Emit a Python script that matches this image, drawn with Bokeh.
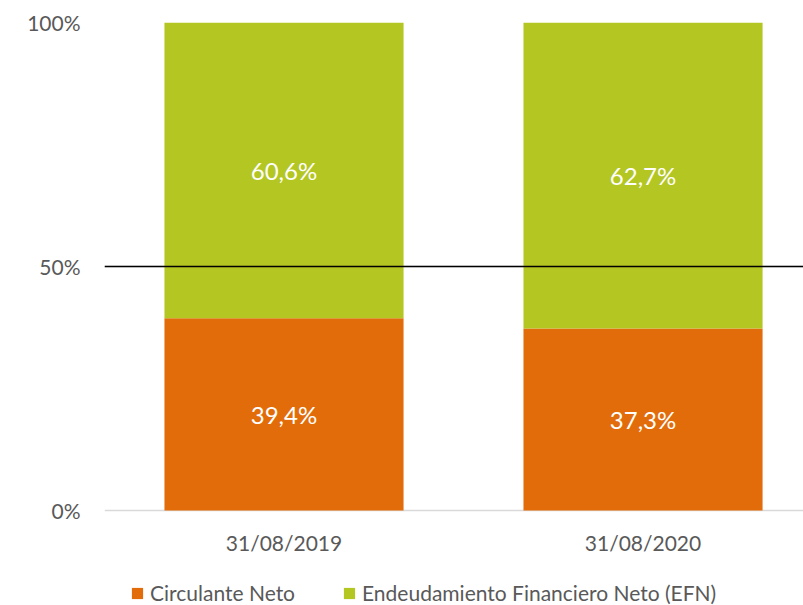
from bokeh.plotting import figure
from bokeh.models import ColumnDataSource, Range1d, FixedTicker, Span, Legend, LegendItem
from bokeh.core.properties import value
from bokeh.embed import file_html
from bokeh.resources import INLINE

# Data
dates = ["31/08/2019", "31/08/2020"]
circulante = [0.394, 0.373]
efn = [0.606, 0.627]
series_names = ["Circulante Neto", "Endeudamiento Financiero Neto (EFN)"]
y_ticks = [0, 0.5, 1.0]
y_tick_labels = ["0%", "50%", "100%"]

FONT = "Lato"
ORANGE = "#E36C0A"
GREEN = "#B4C622"
GRAY = "#595959"

PX_PER_UNIT = 488.0          # frame pixels per 100 %
BELOW_PX = 95.0              # room under the 0 % line for date labels and legend
LABEL_OFFSET_PX = 32.0       # date labels below the 0 % line

xs = [i + 0.5 for i in range(len(dates))]

def fmt(v):
    return ("%.1f%%" % (v * 100)).replace(".", ",")

src = ColumnDataSource(dict(
    x=xs,
    circ=circulante,
    efn=efn,
    circ_mid=[c / 2 for c in circulante],
    efn_mid=[c + e / 2 for c, e in zip(circulante, efn)],
    circ_lbl=[fmt(c) for c in circulante],
    efn_lbl=[fmt(e) for e in efn],
))
date_src = ColumnDataSource(dict(x=xs, y=[-LABEL_OFFSET_PX / PX_PER_UNIT] * len(xs), t=dates))

p = figure(frame_width=699, frame_height=int(PX_PER_UNIT + BELOW_PX), output_backend="svg",
           toolbar_location=None, x_axis_location=None,
           x_range=Range1d(0, 1.947), y_range=Range1d(-BELOW_PX / PX_PER_UNIT, 1.0),
           min_border_left=104, min_border_right=0, min_border_top=22, min_border_bottom=0)
p.outline_line_color = None
p.background_fill_color = "white"
p.border_fill_color = "white"

renderers = p.vbar_stack(["circ", "efn"], x="x", width=0.666, source=src,
                         color=[ORANGE, GREEN], line_color=None)

p.text(x="x", y="circ_mid", text="circ_lbl", source=src, text_color="white",
       text_font=value(FONT), text_font_size="24px", text_align="center", text_baseline="middle")
p.text(x="x", y="efn_mid", text="efn_lbl", source=src, text_color="white",
       text_font=value(FONT), text_font_size="24px", text_align="center", text_baseline="middle")

# category labels
p.text(x="x", y="y", text="t", source=date_src, text_color=GRAY,
       text_font=value(FONT), text_font_size="21px", text_align="center", text_baseline="middle")

p.add_layout(Span(location=0.5, dimension="width", line_color="black", line_width=1.5))

# Grid / axis
p.xgrid.grid_line_color = None
p.ygrid.ticker = FixedTicker(ticks=y_ticks)
p.ygrid.grid_line_color = "#D9D9D9"
p.ygrid.grid_line_width = 1.5

p.yaxis.ticker = FixedTicker(ticks=y_ticks)
p.yaxis.major_label_overrides = {t: l for t, l in zip(y_ticks, y_tick_labels)}
p.yaxis.axis_line_color = None
p.yaxis.major_tick_line_color = None
p.yaxis.minor_tick_line_color = None
p.yaxis.major_tick_out = 0
p.yaxis.major_tick_in = 0
p.yaxis.major_label_standoff = 24
p.yaxis.major_label_text_font = FONT
p.yaxis.major_label_text_font_size = "21px"
p.yaxis.major_label_text_color = GRAY

legend = Legend(items=[LegendItem(label=n, renderers=[r]) for n, r in zip(series_names, renderers)],
                orientation="horizontal", location=(26, 0), padding=0, margin=0,
                spacing=47, label_standoff=6, glyph_width=14, glyph_height=14,
                label_text_font=FONT, label_text_font_size="21px", label_text_color=GRAY,
                border_line_color=None, background_fill_alpha=0)
p.add_layout(legend, "center")

open("out.html", "w").write(file_html(p, INLINE))
